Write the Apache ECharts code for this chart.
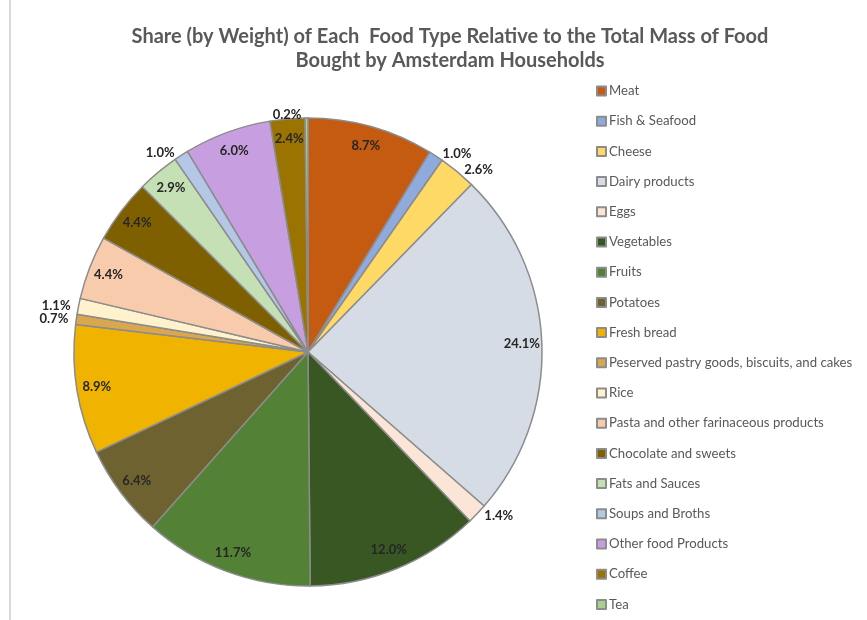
<!DOCTYPE html>
<html>
<head>
<meta charset="utf-8">
<script src="https://cdn.jsdelivr.net/npm/echarts@6/dist/echarts.min.js"></script>
<style>
  html, body { margin: 0; padding: 0; background: #fff; }
  #main { width: 867px; height: 620px; }
</style>
</head>
<body>
<div id="main"></div>
<script>
// food types, in the order they go round the pie (clockwise from 12 o'clock)
var foodTypes = ['Meat', 'Fish & Seafood', 'Cheese', 'Dairy products', 'Eggs', 'Vegetables', 'Fruits',
    'Potatoes', 'Fresh bread', 'Peserved pastry goods, biscuits, and cakes', 'Rice',
    'Pasta and other farinaceous products', 'Chocolate and sweets', 'Fats and Sauces',
    'Soups and Broths', 'Other food Products', 'Coffee', 'Tea'];
// share by weight, percent
var shares = [8.7, 1.0, 2.6, 24.1, 1.4, 12.0, 11.7, 6.4, 8.9, 0.7, 1.1, 4.4, 4.4, 2.9, 1.0, 6.0, 2.4, 0.2];

// slice colours
var palette = ['#C55A11', '#8FAADC', '#FFD966', '#D6DCE5', '#FBE5D6', '#385723', '#538135',
    '#6F6231', '#F0B400', '#D9A84E', '#FFF2CC', '#F8CBAD', '#7F6000', '#C5E0B4',
    '#B4C7E7', '#C79FE0', '#9A7300', '#A9D18E'];
// slices whose label sits outside the pie
var outsideLabels = ['Fish & Seafood', 'Cheese', 'Eggs', 'Peserved pastry goods, biscuits, and cakes',
    'Rice', 'Soups and Broths', 'Tea'];

var font = 'Lato, "Open Sans", sans-serif';
var pieCenter = [308, 352];
var pieRadius = 234;

var sliceData = foodTypes.map(function (name, i) {
    return { name: name, value: shares[i], itemStyle: { color: palette[i] } };
});
// transparent ring just for placing labels near the rim
var labelData = foodTypes.map(function (name, i) {
    var outside = outsideLabels.indexOf(name) >= 0;
    return {
        name: name,
        value: shares[i],
        label: { position: outside ? 'outside' : 'inside' }
    };
});

var chart = echarts.init(document.getElementById('main'));
chart.setOption({
    animation: false,
    title: {
        text: 'Share (by Weight) of Each  Food Type Relative to the Total Mass of Food\nBought by Amsterdam Households',
        left: 445,
        top: 20,
        textAlign: 'center',
        textStyle: { fontFamily: font, fontSize: 20, fontWeight: 'bold', color: '#595959', lineHeight: 24 }
    },
    legend: {
        orient: 'vertical',
        left: 591,
        top: 79,
        height: 560,
        itemWidth: 9,
        itemHeight: 9,
        itemGap: 16.2,
        icon: 'rect',
        selectedMode: false,
        data: foodTypes,
        textStyle: { fontFamily: font, fontSize: 13.2, color: '#595959', lineHeight: 14, padding: [0, 0, 0, -2] }
    },
    graphic: [{
        type: 'line',
        shape: { x1: 10, y1: 0, x2: 10, y2: 620 },
        style: { stroke: '#d9d9d9', lineWidth: 2 }
    }],
    series: [{
        name: 'slices',
        type: 'pie',
        center: pieCenter,
        radius: pieRadius,
        startAngle: 90,
        clockwise: true,
        avoidLabelOverlap: false,
        label: { show: false },
        labelLine: { show: false },
        itemStyle: { borderColor: '#8c8c8c', borderWidth: 1.5 },
        emphasis: { disabled: true },
        data: sliceData
    }, {
        name: 'labels',
        type: 'pie',
        center: pieCenter,
        radius: [pieRadius - 46, pieRadius],
        startAngle: 90,
        clockwise: true,
        silent: true,
        legendHoverLink: false,
        avoidLabelOverlap: false,
        itemStyle: { color: 'rgba(0,0,0,0)', borderWidth: 0 },
        label: {
            show: true,
            fontFamily: font,
            fontSize: 13,
            fontWeight: 'bold',
            color: '#262626',
            formatter: function (p) { return p.value.toFixed(1) + '%'; }
        },
        labelLine: { show: false, length: 3, length2: 0 },
        emphasis: { disabled: true },
        data: labelData
    }]
});
</script>
</body>
</html>
